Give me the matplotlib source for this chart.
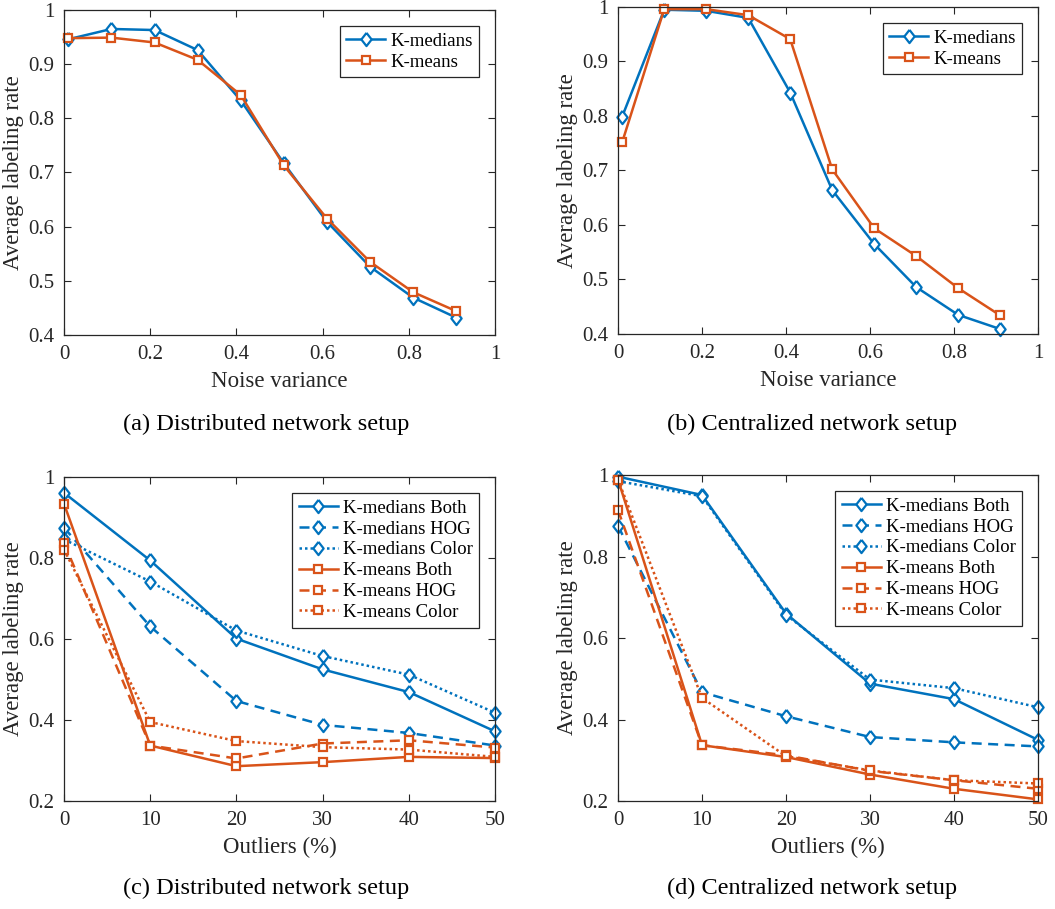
import numpy as np
import matplotlib
matplotlib.use('Agg')
import matplotlib.pyplot as plt

plt.rcParams['font.family'] = ['Liberation Serif', 'DejaVu Serif']
plt.rcParams['mathtext.fontset'] = 'stix'

BLUE = '#0072BD'
ORANGE = '#D95319'
INK = '#262626'

# noise experiments (top row)
noise = [0.01, 0.11, 0.21, 0.31, 0.41, 0.51, 0.61, 0.71, 0.81, 0.91]
dist_kmedians = [0.946, 0.965, 0.963, 0.926, 0.833, 0.717, 0.609, 0.526, 0.469, 0.432]
dist_kmeans = [0.948, 0.949, 0.940, 0.908, 0.843, 0.713, 0.615, 0.535, 0.479, 0.444]
cent_kmedians = [0.799, 0.995, 0.993, 0.980, 0.843, 0.664, 0.565, 0.486, 0.435, 0.409]
cent_kmeans = [0.752, 0.996, 0.996, 0.985, 0.941, 0.702, 0.594, 0.543, 0.484, 0.434]

# outlier experiments (bottom row)
outliers = [0, 10, 20, 30, 40, 50]
dist_med_both = [0.961, 0.794, 0.601, 0.525, 0.469, 0.372]
dist_med_hog = [0.875, 0.631, 0.447, 0.388, 0.368, 0.337]
dist_med_color = [0.846, 0.742, 0.621, 0.558, 0.512, 0.418]
dist_mean_both = [0.934, 0.337, 0.286, 0.296, 0.309, 0.306]
dist_mean_hog = [0.837, 0.337, 0.305, 0.342, 0.350, 0.332]
dist_mean_color = [0.821, 0.395, 0.348, 0.333, 0.327, 0.309]

cent_med_both = [0.996, 0.951, 0.660, 0.488, 0.450, 0.350]
cent_med_hog = [0.875, 0.467, 0.408, 0.357, 0.344, 0.334]
cent_med_color = [0.985, 0.948, 0.657, 0.498, 0.477, 0.430]
cent_mean_both = [0.989, 0.337, 0.308, 0.265, 0.230, 0.204]
cent_mean_hog = [0.914, 0.337, 0.312, 0.274, 0.251, 0.230]
cent_mean_color = [0.989, 0.453, 0.310, 0.275, 0.251, 0.243]

captions = ['(a) Distributed network setup', '(b) Centralized network setup',
            '(c) Distributed network setup', '(d) Centralized network setup']

fig = plt.figure(figsize=(10.55, 9.09), dpi=100)

positions = [
    [0.0607, 0.6315, 0.4085, 0.3575],
    [0.5858, 0.6326, 0.3981, 0.3597],
    [0.0607, 0.1188, 0.4085, 0.3564],
    [0.5858, 0.1188, 0.3981, 0.3586],
]
axes = [fig.add_axes(p) for p in positions]

# MATLAB-like diamond: a bit taller than wide
diamond = [(0, 1), (0.78, 0), (0, -1), (-0.78, 0), (0, 1)]

med_style = dict(color=BLUE, marker=diamond, markersize=9.5, markerfacecolor='white',
                 markeredgewidth=1.6, linewidth=1.8)
mean_style = dict(color=ORANGE, marker='s', markersize=5.5, markerfacecolor='white',
                  markeredgewidth=1.6, linewidth=1.8)

DASH = (0, (4, 2.6))
DOT = (0, (1, 1.2))


def style_axes(ax):
    ax.tick_params(direction='in', top=True, right=True, labelsize=15,
                   colors=INK, length=5, width=0.8, pad=7)
    for s in ax.spines.values():
        s.set_color(INK)
        s.set_linewidth(0.9)
    ax.set_ylabel('Average labeling rate', fontsize=16.5, color=INK, labelpad=3)


def fmt(v):
    return '%g' % v


def add_legend(ax, spacing):
    leg = ax.legend(loc='upper right', fontsize=13.5, handlelength=2.1,
                    borderaxespad=0.85, fancybox=False, edgecolor=INK,
                    framealpha=1, handletextpad=0.25, labelspacing=spacing,
                    borderpad=0.35)
    leg.get_frame().set_linewidth(0.9)


# top row
for ax, med, mean in [(axes[0], dist_kmedians, dist_kmeans),
                      (axes[1], cent_kmedians, cent_kmeans)]:
    ax.plot(noise, med, label='K-medians', clip_on=False, **med_style)
    ax.plot(noise, mean, label='K-means', clip_on=False, **mean_style)
    ax.set_xlim(0, 1)
    ax.set_ylim(0.4, 1)
    xt = np.arange(0, 1.01, 0.2)
    yt = np.arange(0.4, 1.01, 0.1)
    ax.set_xticks(xt)
    ax.set_yticks(yt)
    ax.set_xticklabels([fmt(round(v, 1)) for v in xt])
    ax.set_yticklabels([fmt(round(v, 1)) for v in yt])
    style_axes(ax)
    ax.set_xlabel('Noise variance', fontsize=16.5, color=INK, labelpad=5)
    add_legend(ax, 0.22)

# bottom row
bottom = [
    (axes[2], dist_med_both, dist_med_hog, dist_med_color,
     dist_mean_both, dist_mean_hog, dist_mean_color),
    (axes[3], cent_med_both, cent_med_hog, cent_med_color,
     cent_mean_both, cent_mean_hog, cent_mean_color),
]
for ax, mb, mh, mc, kb, kh, kc in bottom:
    ax.plot(outliers, mb, linestyle='-', label='K-medians Both', clip_on=False, **med_style)
    ax.plot(outliers, mh, linestyle=DASH, label='K-medians HOG', clip_on=False, **med_style)
    ax.plot(outliers, mc, linestyle=DOT, label='K-medians Color', clip_on=False, **med_style)
    ax.plot(outliers, kb, linestyle='-', label='K-means Both', clip_on=False, **mean_style)
    ax.plot(outliers, kh, linestyle=DASH, label='K-means HOG', clip_on=False, **mean_style)
    ax.plot(outliers, kc, linestyle=DOT, label='K-means Color', clip_on=False, **mean_style)
    ax.set_xlim(0, 50)
    ax.set_ylim(0.2, 1)
    ax.set_xticks(outliers)
    ax.set_yticks([0.2, 0.4, 0.6, 0.8, 1.0])
    ax.set_yticklabels(['0.2', '0.4', '0.6', '0.8', '1'])
    style_axes(ax)
    ax.set_xlabel('Outliers (%)', fontsize=16.5, color=INK, labelpad=5)
    add_legend(ax, 0.2)

fig.text(0.252, 0.5335, captions[0], ha='center', va='center', fontsize=17.5, color='black')
fig.text(0.770, 0.5335, captions[1], ha='center', va='center', fontsize=17.5, color='black')
fig.text(0.252, 0.023, captions[2], ha='center', va='center', fontsize=17.5, color='black')
fig.text(0.770, 0.023, captions[3], ha='center', va='center', fontsize=17.5, color='black')

fig.savefig('out.png', dpi=100)
